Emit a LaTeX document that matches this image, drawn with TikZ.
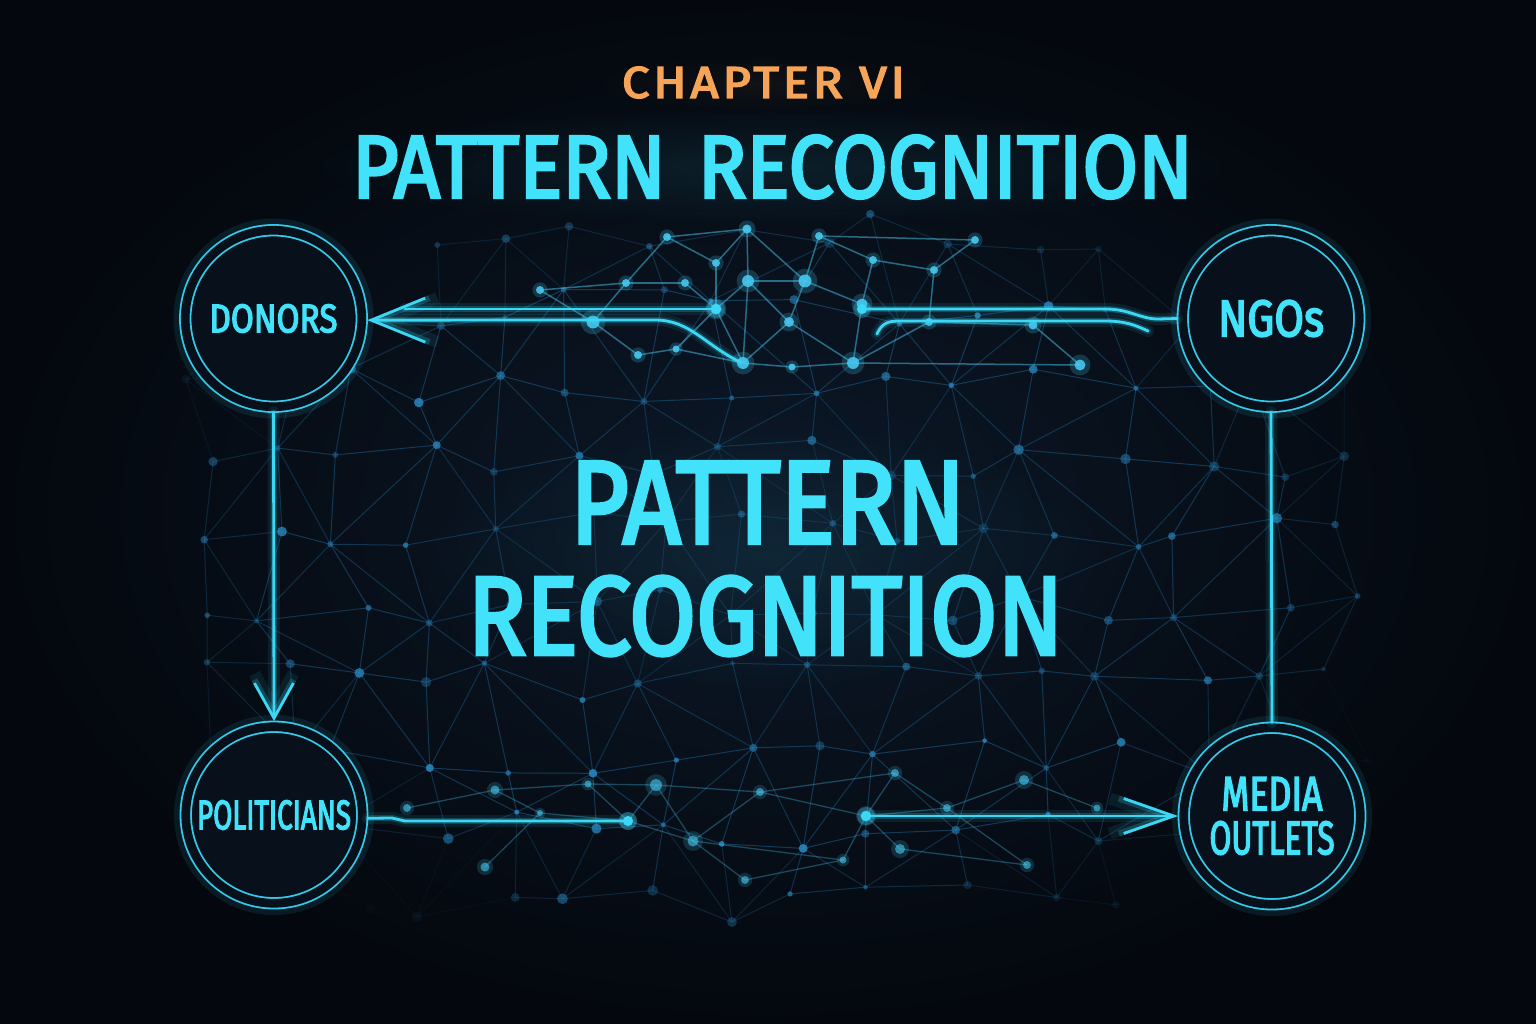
\documentclass[tikz,border=0pt]{standalone}
\usepackage{fontspec}
\setmainfont{Fira Sans}[BoldFont=Fira Sans, BoldFeatures={FakeBold=3.5}]
\usepackage{graphicx}
\usetikzlibrary{arrows.meta,calc,fadings}
\definecolor{bgin}{HTML}{0C1828}
\definecolor{bgout}{HTML}{04080E}
\definecolor{bgfill}{HTML}{07101B}
\definecolor{neonC}{HTML}{42E2FA}
\definecolor{lineC}{HTML}{3AD8F4}
\definecolor{ringC}{HTML}{33CBEA}
\definecolor{orangeC}{HTML}{F6A457}
\definecolor{netC}{HTML}{1E6A9C}
\definecolor{dotC}{HTML}{2A86BE}
\definecolor{brightC}{HTML}{46C8F0}
\pgfdeclarelayer{bg}
\pgfsetlayers{bg,main}
\tikzfading[name=halo, inner color=transparent!15, outer color=transparent!100]
\newcommand\fitt[3]{\resizebox{#1}{#2}{\bfseries #3}}
\begin{document}
\begin{tikzpicture}[x=1pt,y=-1pt,
  txt/.style={inner sep=0pt, outer sep=0pt, text=neonC},
  ring/.style={circle, minimum size=176.5pt, inner sep=0pt, outer sep=5.8pt,
    draw=ringC, line width=1.8pt, double=bgfill, double distance=8.7pt,
    fill=bgfill, text=neonC},
  neon/.style={draw=lineC, line width=2.8pt, line cap=round, line join=round,
    preaction={draw=lineC, line width=12pt, opacity=0.09, line cap=round},
    preaction={draw=lineC, line width=6pt, opacity=0.22, line cap=round}},
  arrowA/.style={-{Straight Barb[length=54pt,width=44pt]}},
  arrowB/.style={-{Straight Barb[length=35pt,width=39pt]}},
  arrowC/.style={-{Straight Barb[length=50pt,width=35pt]}},
  netline/.style={draw=netC, line width=1.0pt},
  brightline/.style={draw=brightC, line width=1.5pt, opacity=0.5},
  midline/.style={draw=brightC, line width=1.3pt, opacity=0.32}]

\useasboundingbox (0,0) rectangle (1536,1024);

% ---------- nodes ----------
\node[ring] (donors) at (273.5,318.5) {\fitt{128pt}{28pt}{DONORS}};
\node[ring] (ngos) at (1271,318.5) {\fitt{106pt}{36pt}{NGOs}};
\node[ring] (pol) at (274,815) {\fitt{154pt}{29pt}{POLITICIANS}};
\node[ring] (media) at (1272,816) {\vbox{\offinterlineskip
   \hbox to 125pt{\hfil\fitt{101pt}{33pt}{MEDIA}\hfil}\kern11pt
   \hbox to 125pt{\hfil\fitt{125pt}{33pt}{OUTLETS}\hfil}}};

\node[txt, text=orangeC] (chap) at (763.5,82.5) {\fitt{283pt}{31pt}{\addfontfeatures{LetterSpace=8}CHAPTER VI}};
\node[txt] (title) at (772.5,167) {\fitt{841pt}{62pt}{PATTERN\hskip0.4em RECOGNITION}};
\node[txt] (big1) at (767.5,502.5) {\fitt{395pt}{81pt}{PATTERN}};
\node[txt] (big2) at (765.5,616) {\fitt{595pt}{78pt}{RECOGNITION}};

% ---------- background layer ----------
\begin{pgfonlayer}{bg}
\shade[inner color=bgin, outer color=bgout] (0,0) rectangle (1536,1024);

\pgfmathsetseed{4242}
\foreach \i in {0,...,15}{\foreach \j in {0,...,9}{%
  \pgfmathsetmacro\ppx{198+\i*76.5+23*rand}%
  \pgfmathsetmacro\ppy{234+\j*74.5+20*rand}%
  \pgfmathsetmacro\elx{((\ppx-768)/610)^2+((\ppy-565)/375)^2}%
  \pgfmathsetmacro\ctr{exp(-(((\ppx-768)/300)^2+((\ppy-560)/120)^2))}%
  \pgfmathsetmacro\pwt{max(0,min(1,(1.3-\elx)*1.5))*(1-0.55*\ctr)}%
  \expandafter\xdef\csname pw-\i-\j\endcsname{\pwt}%
  \coordinate (p-\i-\j) at (\ppx,\ppy);%
}}

\foreach \i in {0,...,15}{\foreach \j in {0,...,9}{%
  \pgfmathtruncatemacro\iN{\i+1}%
  \pgfmathtruncatemacro\jN{\j+1}%
  \edef\wA{\csname pw-\i-\j\endcsname}%
  \ifnum\i<15
    \edef\wB{\csname pw-\iN-\j\endcsname}%
    \pgfmathsetmacro\eop{0.5*min(\wA,\wB)}%
    \draw[netline,opacity=\eop] (p-\i-\j) -- (p-\iN-\j);
  \fi
  \ifnum\j<9
    \edef\wB{\csname pw-\i-\jN\endcsname}%
    \pgfmathsetmacro\eop{0.5*min(\wA,\wB)}%
    \draw[netline,opacity=\eop] (p-\i-\j) -- (p-\i-\jN);
  \fi
  \ifnum\i<15 \ifnum\j<9
    \pgfmathtruncatemacro\pty{mod(\i+\j,2)}%
    \ifnum\pty=0
      \edef\wB{\csname pw-\iN-\jN\endcsname}%
      \pgfmathsetmacro\eop{0.45*min(\wA,\wB)}%
      \draw[netline,opacity=\eop] (p-\i-\j) -- (p-\iN-\jN);
    \else
      \edef\wB{\csname pw-\iN-\j\endcsname}%
      \edef\wC{\csname pw-\i-\jN\endcsname}%
      \pgfmathsetmacro\eop{0.45*min(\wB,\wC)}%
      \draw[netline,opacity=\eop] (p-\iN-\j) -- (p-\i-\jN);
    \fi
  \fi\fi
}}

\foreach \i in {0,...,15}{\foreach \j in {0,...,9}{%
  \edef\wA{\csname pw-\i-\j\endcsname}%
  \pgfmathsetmacro\eop{\wA*(0.6+0.3*rand)}%
  \pgfmathsetmacro\rr{3.8+1.6*rand}%
  \fill[dotC,opacity=\eop] (p-\i-\j) circle[radius=\rr];
}}

% bright cluster (top)
\foreach \n/\x/\y in {b1/747/229, b2/748/281, b3/805/281, b4/716/263, b5/716/309,
  b6/789/322, b7/862/304, b8/743/363, b9/853/363, b10/676/349, b11/593/322,
  b12/626/283, b13/667/237, b14/819/236, b15/873/260, b16/934/270, b17/792/367,
  b18/929/322, b19/685/283, b20/638/355, b21/1033/325, b22/1080/365, b23/540/290, b24/975/240}
  \coordinate (\n) at (\x,\y);
\foreach \a/\b in {b1/b2, b1/b3, b1/b4, b4/b5, b5/b2, b2/b3, b2/b6, b2/b8, b3/b6, b3/b7,
  b6/b8, b6/b9, b5/b8, b5/b10, b7/b9, b12/b19, b19/b5, b12/b11, b13/b12, b13/b4,
  b14/b3, b14/b15, b15/b7, b15/b16, b18/b9, b18/b16, b17/b8, b17/b9, b20/b10,
  b20/b11, b10/b8, b9/b22, b21/b22, b21/b18, b23/b11, b23/b12, b24/b16, b24/b14, b13/b1}
  \draw[brightline] (\a) -- (\b);
\foreach \n/\s in {b1/4.5, b2/6, b3/6.5, b4/4, b5/5.5, b6/5, b7/5.5, b8/6, b9/6,
  b10/3.5, b11/6.5, b12/4, b13/4, b14/4, b15/4, b16/4, b17/3.5, b18/4, b19/4, b20/4,
  b21/4.5, b22/5.5, b23/4, b24/4}{
  \fill[brightC, opacity=0.22] (\n) circle[radius=\s*1.9];
  \fill[brightC, opacity=0.9] (\n) circle[radius=\s];
}

% bottom cluster
\foreach \n/\x/\y in {c1/588/784, c2/656/785, c3/628/821, c4/693/841, c5/495/790,
  c6/540/813, c7/407/808, c8/485/867, c9/760/792, c10/745/880,
  d1/866/816, d2/900/849, d3/1024/780, d4/947/808, d5/1097/808, d6/843/860,
  d7/895/773, d8/1027/865}
  \coordinate (\n) at (\x,\y);
\foreach \a/\b in {c1/c2, c1/c3, c2/c3, c2/c4, c3/c4, c5/c1, c5/c6, c6/c3, c7/c5,
  c8/c6, d1/d2, d1/d4, d1/d6, d1/d7, d7/d4, d4/d3, d3/d5, d2/d8, d4/d8, c4/d6,
  c4/c10, c10/d6, c2/c9, c9/d7, c9/c4, c9/d1}
  \draw[midline] (\a) -- (\b);
\foreach \n/\s in {c1/3.5, c2/6, c3/5, c4/5.5, c5/4.5, c6/3, c7/4, c8/4.5, c9/4,
  c10/4, d1/5.5, d2/5, d3/5, d4/4, d5/3.5, d6/3.5, d7/4, d8/4}{
  \fill[brightC, opacity=0.18] (\n) circle[radius=\s*1.8];
  \fill[brightC, opacity=0.6] (\n) circle[radius=\s];
}

% halos
\fill[neonC, opacity=0.10, path fading=halo] (title.center) ellipse (480 and 60);
\fill[neonC, opacity=0.09, path fading=halo] ($(big1.center)!0.5!(big2.center)$) ellipse (360 and 140);
\fill[orangeC, opacity=0.06, path fading=halo] (chap.center) ellipse (180 and 30);
\foreach \n in {donors,ngos,pol,media}
  \draw[ringC, line width=12pt, opacity=0.10] (\n.center) circle[radius=94];
\end{pgfonlayer}

% ---------- connectors ----------
\coordinate (uR) at (862,309);
\coordinate (uL1) at (716,309);
\coordinate (uL2) at (405,309);
\coordinate (lA) at (740,362);
\coordinate (lB) at (877,334);
\coordinate (lC) at (1148,331);
\coordinate (pb1) at (628,821);
\coordinate (pb2) at (866,816);

\draw[neon] (ngos.west) -- (1158,319) .. controls (1140,319) and (1130,309) .. (1105,309) -- (uR);
\draw[neon] (uL1) -- (uL2);
\draw[neon, arrowA] (lA) .. controls (705,345) and (690,320) .. (655,320) -- (donors.-1);
\draw[neon] (lB) .. controls (882,323) and (888,321) .. (900,321) -- (1105,321) .. controls (1125,321) and (1135,325) .. (lC);
\draw[neon] (pol.-2) -- (392,818) -- (405,821) -- (pb1);
\draw[neon, arrowC] (pb2) -- (media.west);
\draw[neon, arrowB] (donors.south) -- (pol.north);
\draw[neon] (ngos.south) -- (media.north);

\foreach \n in {uR,uL1,pb1,pb2}{
  \fill[brightC, opacity=0.3] (\n) circle[radius=9];
  \fill[lineC] (\n) circle[radius=5];
}
\end{tikzpicture}
\end{document}
